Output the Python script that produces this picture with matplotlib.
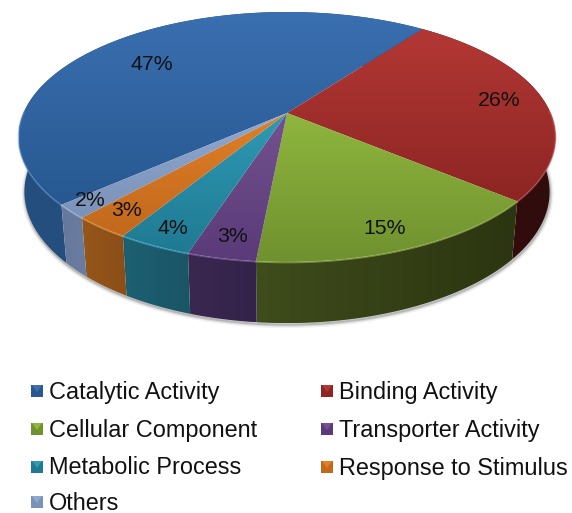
# -*- coding: utf-8 -*-
import numpy as np
import matplotlib
matplotlib.use('Agg')
import matplotlib.pyplot as plt
from matplotlib.colors import LinearSegmentedColormap
from matplotlib.patches import Polygon

plt.rcParams['font.family'] = ['Liberation Sans', 'DejaVu Sans']

# data
categories = ['Catalytic Activity', 'Binding Activity', 'Cellular Component',
              'Transporter Activity', 'Metabolic Process', 'Response to Stimulus', 'Others']
shares = [46.7, 26.0, 15.4, 3.45, 3.75, 2.9, 1.8]

# colours: top face (upper, lower), side (left, right)
top_colors = [('#3a6fb0', '#275890'), ('#b33835', '#8d2523'), ('#8fb63e', '#6f912f'),
              ('#73528f', '#5a3a78'), ('#2f9ab5', '#1f7a92'), ('#e07f28', '#c2691c'),
              ('#8fa8d0', '#7b92b8')]
side_colors = [('#234e7e', '#25507f'), ('#3a0f0f', '#300c0c'), ('#3f4c1b', '#2b3511'),
               ('#3a2850', '#33224a'), ('#1c6072', '#1a5566'), ('#96561a', '#8a4e17'),
               ('#66799c', '#6a7da0')]
rim_colors = ['#5f8fcf', '#c86060', '#a8c860', '#9070b0', '#50b8d0', '#f0a050', '#a8c0e0']

# layout
label_xy = [(152, 65), (499, 100), (385, 229), (233, 237), (173, 228), (127, 210), (90, 201)]
legend_col_x = [31, 321]
legend_row_y = [391, 429, 467, 502]

CX, CY = 287, 113
R, RY, K = 263.5, 120.4, 0.192
START = 221.7


def top_xy(a):
    # perspective view of the circle, a in degrees
    u = np.cos(np.radians(a))
    v = -np.sin(np.radians(a))
    w = 1 / (1 - K * v)
    return CX + R * u * w, CY + RY * v * w


def low_xy(x, y):
    # same outline on the bottom face
    return CX + 0.978 * (x - CX), y + 58 + 0.05 * (y - 200)


def fill_gradient(ax, xs, ys, c1, c2, horizontal=False, z=1):
    cmap = LinearSegmentedColormap.from_list('g', [c1, c2])
    grad = np.linspace(0, 1, 128)
    grad = grad.reshape(1, -1) if horizontal else grad.reshape(-1, 1)
    im = ax.imshow(grad, cmap=cmap, aspect='auto', zorder=z, interpolation='bilinear',
                   extent=[min(xs), max(xs), max(ys), min(ys)])
    patch = Polygon(np.column_stack([xs, ys]), closed=True, transform=ax.transData,
                    facecolor='none', edgecolor='none')
    ax.add_patch(patch)
    im.set_clip_path(patch)


fig = plt.figure(figsize=(5.72, 5.13), dpi=100)
ax = fig.add_axes([0, 0, 1, 1])

# drop shadow under the bottom rim
sa = np.linspace(-185, 5, 200)
sx, sy = low_xy(*top_xy(sa))
for lw, al in [(5, 0.08), (3, 0.15), (1.5, 0.25)]:
    ax.plot(sx + 0.5, sy + 1.5, color='#555555', lw=lw, alpha=al, zorder=0.5)

edges = START - np.cumsum([0] + shares) * 3.6
for i in range(len(shares)):
    a = np.linspace(edges[i], edges[i + 1], 120)
    x, y = top_xy(a)
    bx, by = low_xy(x, y)

    # side band
    fill_gradient(ax, np.r_[x, bx[::-1]], np.r_[y, by[::-1]],
                  side_colors[i][0], side_colors[i][1], horizontal=True, z=1)
    # top face
    fill_gradient(ax, np.r_[CX, x], np.r_[CY, y], top_colors[i][0], top_colors[i][1], z=2)
    # light rim on the front edge
    front = np.sin(np.radians(a)) < 0.02
    ax.plot(np.where(front, x, np.nan), np.where(front, y, np.nan) + 0.5,
            color=rim_colors[i], lw=1.2, alpha=0.55, zorder=3)

for i, (lx, ly) in enumerate(label_xy):
    ax.text(lx, ly, '%.0f%%' % shares[i], fontsize=15.3, color='#111111',
            ha='center', va='center', zorder=4)

# legend, filled by column pairs
for i, name in enumerate(categories):
    mx = legend_col_x[i % 2]
    my = legend_row_y[i // 2]
    s = 6
    ax.add_patch(Polygon([(mx, my - s), (mx + 12, my - s), (mx + 12, my + s), (mx, my + s)],
                         facecolor=top_colors[i][1], edgecolor='none', zorder=3))
    ax.add_patch(Polygon([(mx + 1, my - s), (mx + 11, my - s), (mx + 6, my + 1)],
                         facecolor=top_colors[i][0], edgecolor='none', zorder=4))
    ax.text(mx + 18, my + 1, name, fontsize=16.9, color='#111111', ha='left', va='center')

ax.set_xlim(0, 572)
ax.set_ylim(513, 0)
ax.axis('off')

fig.savefig('out.png', dpi=100, facecolor='white')
